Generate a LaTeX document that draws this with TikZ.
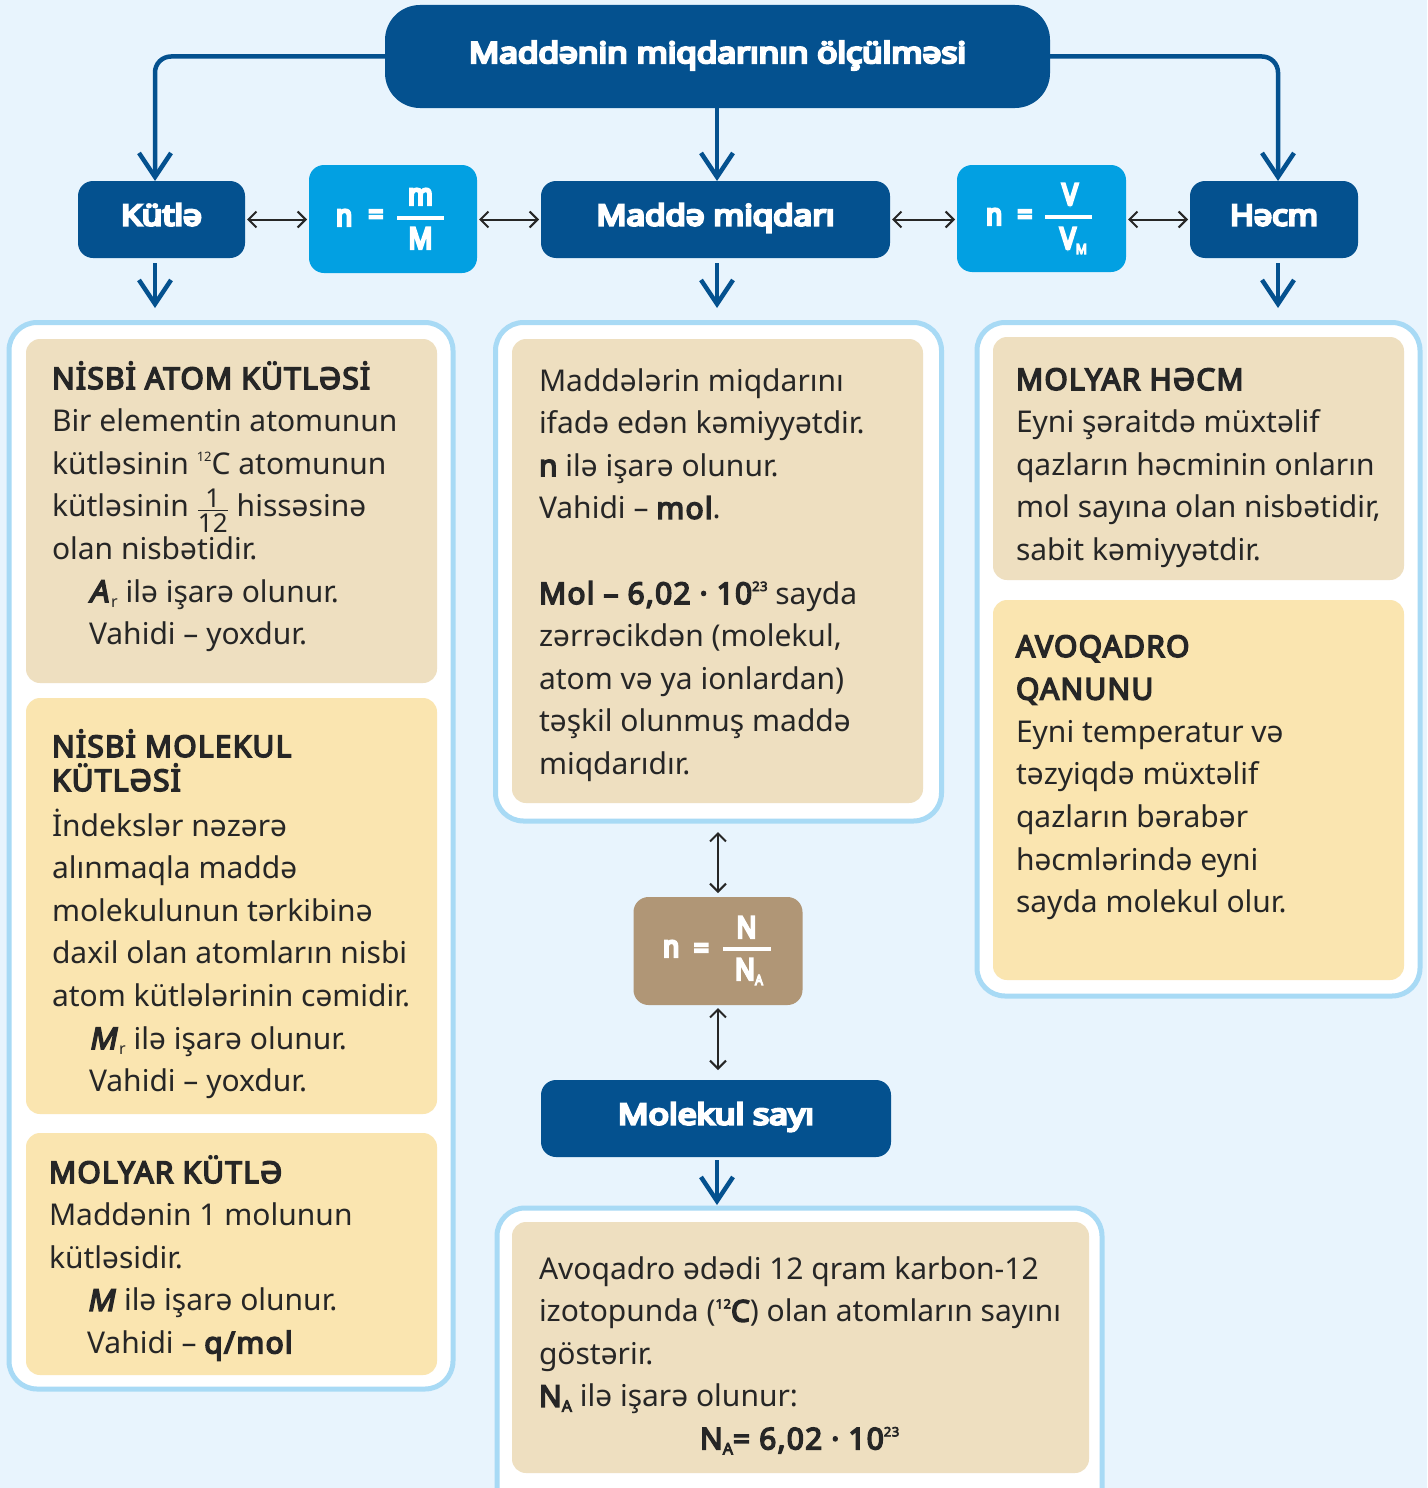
\documentclass[tikz,border=0pt]{standalone}
\usepackage{fontspec}
\usepackage{graphicx}
\usetikzlibrary{arrows.meta}
\setmainfont{Noto Sans}[BoldFont={Noto Sans},BoldFeatures={FakeBold=5,LetterSpace=4},
  BoldItalicFont={Noto Sans},BoldItalicFeatures={FakeBold=5,FakeSlant=0.2}]
\newfontfamily\heavyfont{Noto Sans}[FakeBold=8]
\newfontfamily\condfont{Noto Sans}[FakeStretch=0.88,FakeBold=8]
\definecolor{bg}{HTML}{E8F4FD}
\definecolor{dblue}{HTML}{04518F}
\definecolor{cyanb}{HTML}{02A0E2}
\definecolor{panelb}{HTML}{A8DAF5}
\definecolor{tanb}{HTML}{EEDFC0}
\definecolor{yelb}{HTML}{FAE5B0}
\definecolor{brownb}{HTML}{B09676}
\definecolor{txtc}{HTML}{262626}
\setlength\lineskiplimit{-100pt}
\setlength\lineskip{0pt}
\newcommand\bodysize{\fontsize{30}{42.6}\selectfont}
\newcommand\supn[1]{\raisebox{13pt}{\fontsize{13}{13}\selectfont #1}}
\newcommand\subn[1]{\raisebox{-5pt}{\fontsize{16}{16}\selectfont #1}}
\newcommand\subf[1]{\raisebox{-5pt}{\fontsize{14}{14}\selectfont #1}}
\newcommand\fitw[2]{\resizebox{#1}{\height}{#2}}
\newcommand\st{\rule{0pt}{30pt}}
\newcommand\onetwelve{${\mbox{\fontsize{26}{26}\selectfont 1}\above 1.8pt\mbox{\fontsize{26}{26}\selectfont 12}}$}
\begin{document}
\begin{tikzpicture}[x=1pt,y=-1pt,
  every node/.style={inner sep=0pt,outer sep=0pt},
  bluebox/.style={fill=dblue,rounded corners=15pt,text=white,
    font=\heavyfont\fontsize{29}{29}\selectfont,text height=19pt,text depth=7pt},
  fbox/.style={fill=cyanb,rounded corners=15pt},
  nbox/.style={fill=brownb,rounded corners=15pt},
  panel/.style={draw=panelb,fill=white,line width=5pt,rounded corners=28pt},
  fml/.style={text=white,font=\condfont\fontsize{30}{30}\selectfont},
  txt/.style={anchor=north west,align=left,font=\bodysize,text=txtc},
  bluearrow/.style={draw=dblue,line width=4.5pt,-{Straight Barb[length=24pt,width=32pt]}},
  dbl/.style={draw=black!85,line width=2pt,{Straight Barb[length=8pt,width=16pt]}-{Straight Barb[length=8pt,width=16pt]}},
  fbar/.style={draw=white,line width=4pt}]
\useasboundingbox (0,0) rectangle (1427,1488);
\clip (0,0) rectangle (1427,1488);
\fill[bg] (0,0) rectangle (1427,1488);

% panels
\node[panel,minimum width=444pt,minimum height=1066.5pt] (lpanel) at (231,855.75) {};
\node[panel,minimum width=446pt,minimum height=498.5pt] (mpanel) at (718.5,571.75) {};
\node[panel,minimum width=443pt,minimum height=673.5pt] (rpanel) at (1198.5,659.25) {};
\node[panel,minimum width=605pt,minimum height=312pt] (bpanel) at (799.5,1364) {};

% inner boxes
\fill[tanb,rounded corners=14pt] (26,339) rectangle (437,683);
\fill[yelb,rounded corners=14pt] (26,698) rectangle (437,1114);
\fill[yelb,rounded corners=14pt] (26,1133) rectangle (437,1375);
\fill[tanb,rounded corners=14pt] (512,339) rectangle (923,803);
\fill[tanb,rounded corners=14pt] (993,337) rectangle (1404,580);
\fill[yelb,rounded corners=14pt] (993,600) rectangle (1404,980);
\fill[tanb,rounded corners=14pt] (512,1222) rectangle (1089,1473);

% header boxes
\node[bluebox,rounded corners=35pt,minimum width=665pt,minimum height=103pt,text depth=6.5pt,text height=19.5pt] (top) at (717.5,56.5) {\fitw{497pt}{Maddənin miqdarının ölçülməsi}};
\node[bluebox,minimum width=167pt,minimum height=77pt] (kutle) at (161.5,219.5) {\fitw{81pt}{Kütlə}};
\node[bluebox,minimum width=349pt,minimum height=77pt] (madde) at (715.5,219.5) {\fitw{238pt}{Maddə miqdarı}};
\node[bluebox,minimum width=168pt,minimum height=77pt] (hacm) at (1274,219.5) {\fitw{88pt}{Həcm}};
\node[bluebox,minimum width=350pt,minimum height=77pt] (molek) at (716,1118.5) {\fitw{196pt}{Molekul sayı}};

% formula boxes
\node[fbox,minimum width=168pt,minimum height=108pt] (f1) at (393,219) {};
\node[fbox,minimum width=169pt,minimum height=107pt] (f2) at (1041.5,218.5) {};
\node[nbox,minimum width=169pt,minimum height=108pt] (nb) at (718,951) {};

\node[fml,anchor=base west] (f1n) at (336,226) {n};
\node[fml] (f1e) at (376,217.5) {=};
\draw[fbar] (397,218) -- (444,218);
\node[fml,anchor=base] (f1t) at (420.5,205) {m};
\node[fml,anchor=base] (f1b) at (420.5,249) {M};

\node[fml,anchor=base west] (f2n) at (986,225) {n};
\node[fml] (f2e) at (1025,217.5) {=};
\draw[fbar] (1045,217) -- (1092,217);
\node[fml,anchor=base] (f2t) at (1070,205) {V};
\node[fml,anchor=base west] (f2b) at (1060,249) {V\subf{M}};

\node[fml,anchor=base west] (nbn) at (663,957) {n};
\node[fml] (nbe) at (701.5,951) {=};
\draw[fbar] (723,949) -- (771,949);
\node[fml,anchor=base] (nbt) at (746.5,938) {N};
\node[fml,anchor=base west] (nbb) at (735,980) {N\subf{A}};

% coordinates for arrow ends
\coordinate (la) at (155,308);
\coordinate (ma) at (717,308);
\coordinate (ra) at (1278,308);
\coordinate (ba) at (717,1205);

% blue connectors
\draw[bluearrow,rounded corners=16pt] (top.west) -| ([xshift=-6.5pt]kutle.north);
\draw[bluearrow,rounded corners=16pt] (top.east) -| ([xshift=4pt]hacm.north);
\draw[bluearrow] (top.south -| ma) -- (madde.north -| ma);
\draw[bluearrow] ([yshift=-5pt]kutle.south -| la) -- (la);
\draw[bluearrow] ([yshift=-5pt]madde.south -| ma) -- (ma);
\draw[bluearrow] ([yshift=-5pt]hacm.south -| ra) -- (ra);
\draw[bluearrow] ([yshift=-3pt]molek.south -| ba) -- (ba);

% black double arrows
\draw[dbl,shorten <=2pt,shorten >=2pt] (kutle.east) -- (kutle.east -| f1.west);
\draw[dbl,shorten <=2pt,shorten >=2pt] (f1.east |- madde.east) -- (madde.west);
\draw[dbl,shorten <=2pt,shorten >=2pt] (madde.east) -- (madde.east -| f2.west);
\draw[dbl,shorten <=2pt,shorten >=2pt] (f2.east |- hacm.west) -- (hacm.west);
\draw[dbl] ([yshift=-11pt]mpanel.south -| nb) -- ([yshift=4pt]nb.north);
\draw[dbl] ([yshift=-3pt]nb.south) -- ([yshift=10pt]molek.north -| nb);

% texts
\node[txt] (l1t) at (52,359) {\st{\bfseries NİSBİ ATOM KÜTLƏSİ}\\
Bir elementin atomunun\\
kütləsinin \supn{12}C atomunun\\
kütləsinin \onetwelve\ hissəsinə\\
olan nisbətidir.\\
\hspace*{37pt}{\bfseries\itshape A}\kern3pt\subn{r} ilə işarə olunur.\\
\hspace*{37pt}Vahidi – yoxdur.};

\node[txt] (l2t) at (52,727) {\st{\bfseries NİSBİ MOLEKUL}\\[-8.6pt]
{\bfseries KÜTLƏSİ}\\[2.4pt]
İndekslər nəzərə\\
alınmaqla maddə\\
molekulunun tərkibinə\\
daxil olan atomların nisbi\\
atom kütlələrinin cəmidir.\\
\hspace*{37pt}{\bfseries\itshape M}\kern3pt\subn{r} ilə işarə olunur.\\
\hspace*{37pt}Vahidi – yoxdur.};

\node[txt] (l3t) at (49,1153) {\st{\bfseries MOLYAR KÜTLƏ}\\
Maddənin 1 molunun\\
kütləsidir.\\
\hspace*{38pt}{\bfseries\itshape M}\kern2pt{} ilə işarə olunur.\\
\hspace*{38pt}Vahidi – {\bfseries q/mol}};

\node[txt] (mt) at (539,361) {\st Maddələrin miqdarını\\
ifadə edən kəmiyyətdir.\\
{\bfseries n} ilə işarə olunur.\\
Vahidi – {\bfseries mol}.\\[42.6pt]
{\bfseries Mol – 6,02 · 10\supn{23}} sayda\\
zərrəcikdən (molekul,\\
atom və ya ionlardan)\\
təşkil olunmuş maddə\\
miqdarıdır.};

\node[txt] (r1t) at (1016,360) {\st{\bfseries MOLYAR HƏCM}\\
Eyni şəraitdə müxtəlif\\
qazların həcminin onların\\
mol sayına olan nisbətidir,\\
sabit kəmiyyətdir.};

\node[txt] (r2t) at (1016,627) {\st{\bfseries AVOQADRO}\\
{\bfseries QANUNU}\\
Eyni temperatur və\\
təzyiqdə müxtəlif\\
qazların bərabər\\
həcmlərində eyni\\
sayda molekul olur.};

\node[txt] (bt) at (539,1249) {\st Avoqadro ədədi 12 qram karbon-12\\
izotopunda ({\bfseries\supn{12}C}) olan atomların sayını\\
göstərir.\\
{\bfseries N\subn{A}} ilə işarə olunur:\\
\hspace*{161pt}{\bfseries N\subn{A}= 6,02 · 10\supn{23}}};
\end{tikzpicture}
\end{document}
